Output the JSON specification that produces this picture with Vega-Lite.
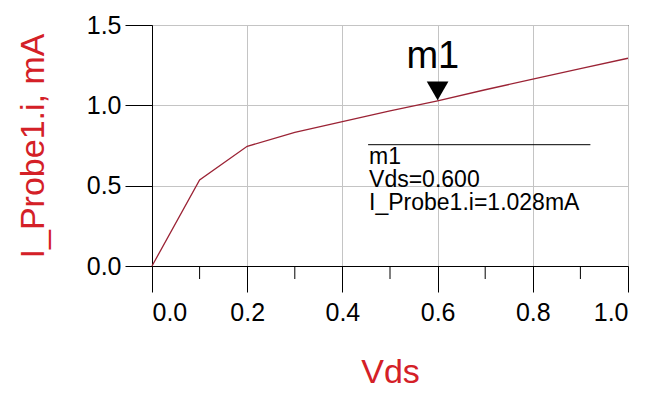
{
  "$schema": "https://vega.github.io/schema/vega-lite/v6.json",
  "autosize": "none",
  "padding": {"left": 152, "top": 25, "right": 21, "bottom": 127},
  "width": 476,
  "height": 241,
  "background": "white",
  "config": {
    "font": "Liberation Sans",
    "view": {"stroke": "black", "strokeWidth": 1},
    "axis": {"domainColor": "black", "tickColor": "black", "labelColor": "black", "gridColor": "#c4c4c4", "gridWidth": 1}
  },
  "layer": [
    {
      "data": {
        "values": [
          {"Vds": 0.0, "I": 0.0},
          {"Vds": 0.1, "I": 0.535},
          {"Vds": 0.2, "I": 0.745},
          {"Vds": 0.3, "I": 0.832},
          {"Vds": 0.4, "I": 0.899},
          {"Vds": 0.5, "I": 0.965},
          {"Vds": 0.6, "I": 1.028},
          {"Vds": 0.7, "I": 1.097},
          {"Vds": 0.8, "I": 1.163},
          {"Vds": 0.9, "I": 1.229},
          {"Vds": 1.0, "I": 1.293}
        ]
      },
      "mark": {"type": "line", "color": "#9b2335", "strokeWidth": 1.3},
      "encoding": {
        "x": {
          "field": "Vds", "type": "quantitative",
          "scale": {"domain": [0, 1], "nice": false, "zero": false},
          "axis": {
            "orient": "bottom",
            "values": [0, 0.2, 0.4, 0.6, 0.8, 1.0], "format": ".1f",
            "tickSize": 26, "labelFontSize": 25, "labelPadding": 8,
            "title": "Vds", "titleColor": "#d42027", "titleFontSize": 34, "titleFontWeight": "normal", "titlePadding": 30
          }
        },
        "y": {
          "field": "I", "type": "quantitative",
          "scale": {"domain": [0, 1.5], "nice": false},
          "axis": {
            "orient": "left",
            "values": [0, 0.5, 1.0, 1.5], "format": ".1f",
            "tickSize": 27, "labelFontSize": 25, "labelPadding": 4,
            "title": "I_Probe1.i, mA", "titleColor": "#d42027", "titleFontSize": 34, "titleFontWeight": "normal", "titlePadding": 36
          }
        }
      }
    },
    {
      "data": {"values": [{"minor": 0.1}, {"minor": 0.3}, {"minor": 0.5}, {"minor": 0.7}, {"minor": 0.9}]},
      "mark": {"type": "rule", "color": "black", "strokeWidth": 1, "clip": false},
      "encoding": {
        "x": {"field": "minor", "type": "quantitative"},
        "y": {"datum": 0},
        "y2": {"datum": -0.081}
      }
    },
    {
      "data": {"values": [{}]},
      "mark": {"type": "point", "shape": "triangle-down", "filled": true, "color": "black", "opacity": 1, "size": 470},
      "encoding": {"x": {"datum": 0.6}, "y": {"datum": 1.09}}
    },
    {
      "data": {"values": [{}]},
      "mark": {"type": "text", "text": "m1", "fontSize": 38, "align": "center", "baseline": "alphabetic", "color": "black"},
      "encoding": {"x": {"datum": 0.59}, "y": {"datum": 1.233}}
    },
    {
      "data": {"values": [{}]},
      "mark": {"type": "rule", "color": "black", "strokeWidth": 1},
      "encoding": {"x": {"datum": 0.454}, "x2": {"datum": 0.921}, "y": {"datum": 0.755}}
    },
    {
      "data": {"values": [{}]},
      "mark": {"type": "text", "text": "m1", "fontSize": 23, "align": "left", "baseline": "alphabetic", "color": "black"},
      "encoding": {"x": {"datum": 0.456}, "y": {"datum": 0.635}}
    },
    {
      "data": {"values": [{}]},
      "mark": {"type": "text", "text": "Vds=0.600", "fontSize": 23, "align": "left", "baseline": "alphabetic", "color": "black"},
      "encoding": {"x": {"datum": 0.456}, "y": {"datum": 0.49}}
    },
    {
      "data": {"values": [{}]},
      "mark": {"type": "text", "text": "I_Probe1.i=1.028mA", "fontSize": 23, "align": "left", "baseline": "alphabetic", "color": "black"},
      "encoding": {"x": {"datum": 0.456}, "y": {"datum": 0.35}}
    }
  ]
}
